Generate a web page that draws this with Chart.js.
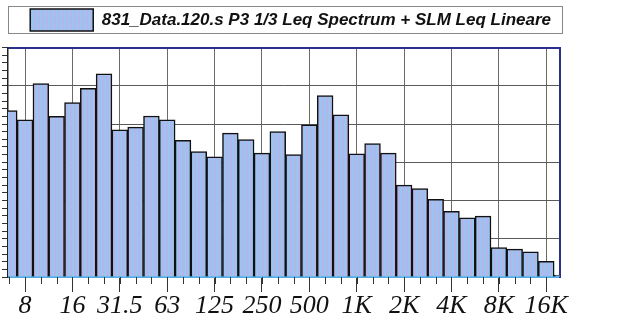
<!DOCTYPE html>
<html>
<head>
<meta charset="utf-8">
<script src="https://cdn.jsdelivr.net/npm/chart.js@4.4.1/dist/chart.umd.min.js"></script>
<style>
  html, body { margin: 0; padding: 0; background: #fff; }
  #wrap { width: 618px; height: 320px; }
</style>
</head>
<body>
<div id="wrap"><canvas id="myChart"></canvas></div>
<script>
// 1/3 octave bands, 6.3 Hz .. 20 kHz
var bands = ["6.3", "8", "10", "12.5", "16", "20", "25", "31.5", "40", "50", "63", "80",
  "100", "125", "160", "200", "250", "315", "400", "500", "630", "800", "1K", "1.25K",
  "1.6K", "2K", "2.5K", "3.15K", "4K", "5K", "6.3K", "8K", "10K", "12.5K", "16K", "20K"];
var levels = [43.5, 41.1, 50.6, 42.0, 45.6, 49.3, 53.1, 38.5, 39.2, 42.1, 41.1, 35.7,
  32.8, 31.4, 37.6, 35.9, 32.4, 38.0, 32.0, 39.8, 47.4, 42.4, 32.2, 34.9,
  32.4, 24.0, 23.1, 20.3, 17.2, 15.5, 15.9, 7.7, 7.3, 6.6, 4.1, 0.5];
var tickIdx = [1, 4, 7, 10, 13, 16, 19, 22, 25, 28, 31, 34];
var tickLabels = ["8", "16", "31.5", "63", "125", "250", "500", "1K", "2K", "4K", "8K", "16K"];
var seriesName = "831_Data.120.s P3 1/3 Leq Spectrum + SLM Leq Lineare";

window.addEventListener("load", init);

function makeFill(ctx) {
  var c = document.createElement("canvas");
  c.width = 4;
  c.height = 2;
  var g = c.getContext("2d");
  var cols = ["#8ec8f4", "#a9bff0", "#c8acdf", "#98c2f0"];
  cols.forEach((col, i) => {
    g.fillStyle = col;
    g.fillRect(i, 0, 1, 2);
  });
  return ctx.createPattern(c, "repeat");
}

// small ticks under every band + frame round the legend
var extras = {
  id: "extras",
  afterDraw(chart) {
    var ctx = chart.ctx;
    var x = chart.scales.x;
    var area = chart.chartArea;
    ctx.save();
    ctx.strokeStyle = "#333";
    ctx.lineWidth = 1;
    bands.forEach((b, i) => {
      var px = Math.round(x.getPixelForValue(i)) + 0.5;
      if (px < area.left || px > area.right) return;
      ctx.beginPath();
      ctx.moveTo(px, area.bottom);
      ctx.lineTo(px, area.bottom + 7);
      ctx.stroke();
    });
    var lg = chart.legend;
    ctx.strokeStyle = "#888";
    ctx.strokeRect(area.left + 0.5, lg.top + 6.5, area.right - area.left + 2, 27);
    ctx.restore();
  }
};

function init() {
  var ctx = document.getElementById("myChart").getContext("2d");
  var fill = makeFill(ctx);
  var serif = { family: "'Liberation Serif', 'Times New Roman', serif", size: 26, style: "italic", lineHeight: 1 };

  new Chart(ctx, {
    type: "bar",
    data: {
      datasets: [
        {
          label: seriesName,
          data: levels.map((v, i) => ({ x: i, y: v })),
          xAxisID: "x",
          yAxisID: "y",
          backgroundColor: fill,
          borderColor: "#111",
          borderWidth: 1.5,
          barPercentage: 1,
          categoryPercentage: 1
        }
      ]
    },
    options: {
      responsive: true,
      maintainAspectRatio: false,
      animation: false,
      devicePixelRatio: 1,
      layout: { padding: { left: 2, right: 58, top: 0, bottom: 0 } },
      plugins: {
        tooltip: { enabled: false },
        legend: {
          position: "top",
          align: "end",
          labels: {
            boxWidth: 63,
            boxHeight: 22,
            padding: 9,
            color: "#111",
            font: { family: "'Liberation Sans', Arial, sans-serif", size: 17, style: "italic", weight: "bold" }
          }
        }
      },
      scales: {
        x: {
          type: "linear",
          position: "bottom",
          offset: false,
          min: -0.08,
          max: 34.87,
          afterBuildTicks: s => {
            s.ticks = tickIdx.map(v => ({ value: v }));
          },
          ticks: {
            autoSkip: false,
            maxRotation: 0,
            padding: 1,
            color: "#111",
            font: serif,
            callback: v => tickLabels[tickIdx.indexOf(v)]
          },
          grid: { offset: false, color: "#6a6a6a", lineWidth: 1, tickLength: 15, tickColor: "#333" },
          border: { color: "#4fb0e6", width: 2 }
        },
        x2: {
          type: "linear",
          position: "top",
          offset: false,
          min: -0.08,
          max: 34.87,
          ticks: { display: false },
          grid: { offset: false, drawOnChartArea: false, drawTicks: true, tickLength: 6.5, tickColor: "rgba(0,0,0,0)" },
          border: { color: "#2d2f8c", width: 2 }
        },
        y: {
          min: 0,
          max: 60,
          ticks: { display: false, stepSize: 2 },
          grid: {
            color: c => (c.tick && c.tick.value % 10 === 0 ? "#5a5a5a" : "rgba(0,0,0,0)"),
            tickColor: "#333",
            tickLength: 6
          },
          border: { color: "#222", width: 1.5 }
        },
        y2: {
          position: "right",
          min: 0,
          max: 60,
          ticks: { display: false },
          grid: { drawOnChartArea: false, drawTicks: false },
          border: { color: "#2d2f8c", width: 2 }
        }
      }
    },
    plugins: [extras]
  });
}
</script>
</body>
</html>
